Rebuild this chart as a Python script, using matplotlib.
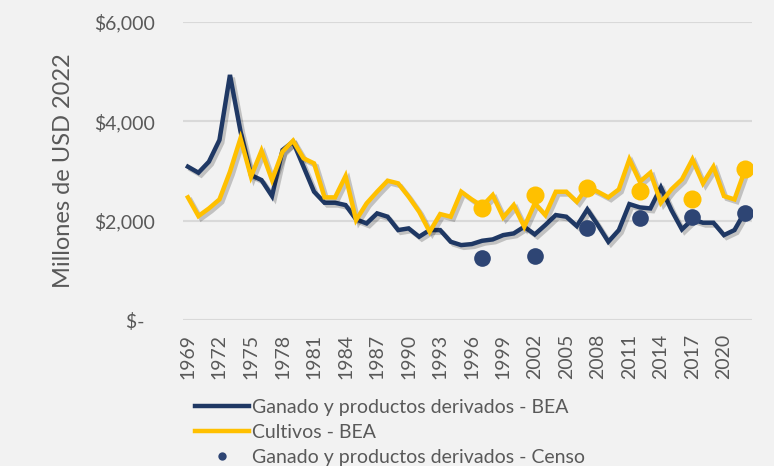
import matplotlib
matplotlib.use("Agg")
import matplotlib.pyplot as plt
import matplotlib.patheffects as pe
from matplotlib.lines import Line2D
from matplotlib.ticker import FuncFormatter

years = list(range(1969, 2023))

ganado_bea = [
    3087, 2966, 3188, 3624, 4933, 3800, 2919, 2818, 2496, 3422,
    3590, 3087, 2584, 2362, 2362, 2315, 2027, 1946, 2148, 2081,
    1812, 1846, 1678, 1812, 1812, 1577, 1510, 1530, 1597, 1624,
    1711, 1745, 1879, 1725, 1913, 2114, 2081, 1893, 2228, 1913,
    1577, 1812, 2335, 2268, 2248, 2671, 2215, 1826, 2027, 1960,
    1960, 1711, 1812, 2180,
]
cultivos_bea = [
    2470, 2094, 2248, 2429, 2986, 3657, 2885, 3409, 2818, 3389,
    3610, 3255, 3154, 2470, 2470, 2899, 2013, 2349, 2584, 2805,
    2752, 2483, 2181, 1778, 2134, 2081, 2584, 2429, 2295, 2517,
    2067, 2315, 1879, 2349, 2114, 2584, 2584, 2382, 2684, 2584,
    2470, 2631, 3235, 2785, 2966, 2362, 2631, 2832, 3235, 2752,
    3087, 2496, 2429, 3020,
]

censo_years = [1997, 2002, 2007, 2012, 2017, 2022]
ganado_censo = [1248, 1290, 1852, 2054, 2074, 2154]
cultivos_censo = [2255, 2517, 2657, 2597, 2436, 3040]

tick_years = list(range(1969, 2021, 3))
y_ticks = [0, 2000, 4000, 6000]

NAVY = "#1f3864"
NAVY_DOT = "#2e4574"
GOLD = "#ffc000"
TXT = "#595959"
BG = "#f2f2f2"

plt.rcParams["font.family"] = ["Lato", "DejaVu Sans"]

fig = plt.figure(figsize=(7.74, 4.66), dpi=100, facecolor=BG)
ax = fig.add_axes([0.236, 0.313, 0.736, 0.640])
ax.set_facecolor(BG)

shadow = [pe.SimpleLineShadow(offset=(2, -2), alpha=0.2, shadow_color="black"),
          pe.Normal()]

ax.plot(years, ganado_bea, color=NAVY, lw=3.2, solid_joinstyle="miter",
        path_effects=shadow, zorder=3)
ax.plot(years, cultivos_bea, color=GOLD, lw=3.2, solid_joinstyle="miter",
        path_effects=shadow, zorder=4)
ax.plot(censo_years, ganado_censo, ls="none", marker="o", ms=12, color=NAVY_DOT,
        mec="none", zorder=5)
ax.plot(censo_years, cultivos_censo, ls="none", marker="o", ms=13, color=GOLD,
        mec="none", zorder=6)

ax.set_xlim(1968.5, 2022.7)
ax.set_ylim(0, 6000)
ax.set_yticks(y_ticks)
ax.yaxis.set_major_formatter(FuncFormatter(
    lambda v, p: "$-  " if v == 0 else f"${v:,.0f}"))
ax.set_xticks(tick_years)
ax.set_xticklabels([str(y) for y in tick_years], rotation=90)

ax.grid(axis="y", color="#d9d9d9", lw=1.5, zorder=0)
ax.set_axisbelow(True)
for s in ax.spines.values():
    s.set_visible(False)
ax.tick_params(axis="both", length=0, labelsize=14, colors=TXT)
ax.tick_params(axis="y", pad=20)
ax.tick_params(axis="x", pad=10)

ax.set_ylabel("Millones de USD 2022", fontsize=17, color=TXT)
ax.yaxis.set_label_coords(-0.19, 0.5)

# legend handles without shadows, like the original
handles = [
    Line2D([], [], color=NAVY, lw=3.2),
    Line2D([], [], color=GOLD, lw=3.2),
    Line2D([], [], ls="none", marker="o", ms=6, color=NAVY_DOT, mec="none"),
]
labels = ["Ganado y productos derivados - BEA", "Cultivos - BEA",
          "Ganado y productos derivados - Censo"]
leg = fig.legend(handles, labels, loc="upper left",
                 bbox_to_anchor=(195 / 774, 1 - 399 / 466),
                 frameon=False, fontsize=14, handlelength=2.8, handletextpad=0.15,
                 borderpad=0, borderaxespad=0, labelspacing=0.4)
for t in leg.get_texts():
    t.set_color(TXT)

fig.savefig("out.png", dpi=100, facecolor=BG)
